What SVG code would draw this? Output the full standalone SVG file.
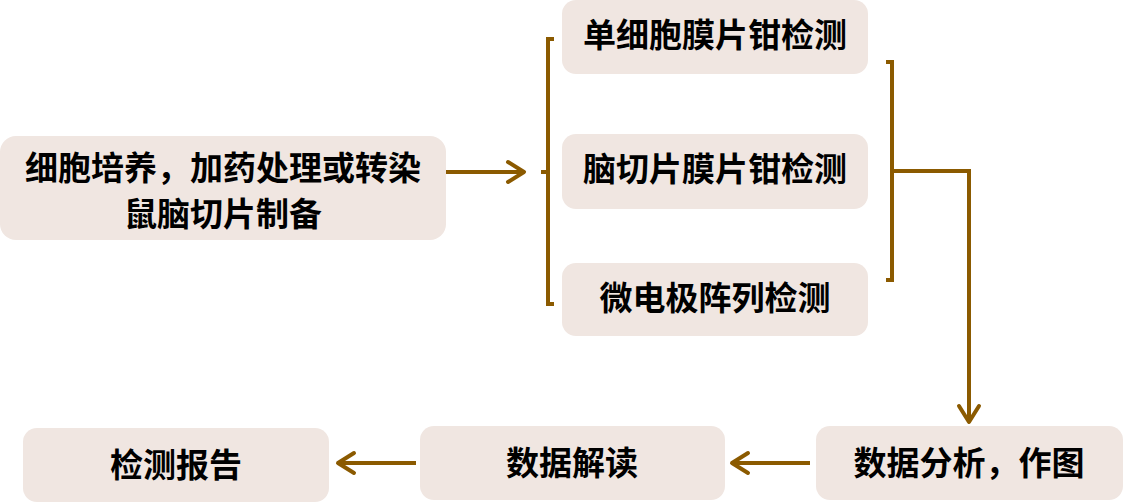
<svg xmlns="http://www.w3.org/2000/svg" width="1123" height="503" viewBox="0 0 1123 503">
<defs>
<style>
.box{fill:#F0E6E1;}
.t{font-family:"Noto Sans CJK SC","Noto Sans",sans-serif;font-weight:bold;font-size:33px;fill:#000;text-anchor:middle;dominant-baseline:central;}
.c{fill:none;stroke:#8B5A00;stroke-width:4;stroke-linecap:butt;stroke-linejoin:miter;}
</style>
<marker id="ah" markerWidth="12" markerHeight="14" refX="10" refY="7" orient="auto" markerUnits="userSpaceOnUse" viewBox="0 0 12 14" overflow="visible">
<path d="M-6,-3 L10,7 L-6,17" fill="none" stroke="#8B5A00" stroke-width="4" stroke-linecap="round" stroke-linejoin="round"/>
</marker>
</defs>
<rect width="1123" height="503" fill="#fff"/>
<g id="n1"><rect class="box" x="0" y="136" width="446" height="104" rx="16"/><text class="t" x="223" y="166"><tspan x="223" y="166">细胞培养，加药处理或转染</tspan><tspan x="223" y="212">鼠脑切片制备</tspan></text></g>
<g id="n2"><rect class="box" x="562" y="0" width="306" height="74" rx="14"/><text class="t" x="715" y="33">单细胞膜片钳检测</text></g>
<g id="n3"><rect class="box" x="562" y="134" width="306" height="75" rx="14"/><text class="t" x="715" y="167">脑切片膜片钳检测</text></g>
<g id="n4"><rect class="box" x="562" y="263" width="306" height="73" rx="14"/><text class="t" x="715" y="296">微电极阵列检测</text></g>
<g id="n5"><rect class="box" x="816" y="426" width="307" height="74" rx="14"/><text class="t" x="969" y="461">数据分析，作图</text></g>
<g id="n6"><rect class="box" x="420" y="426" width="305" height="74" rx="14"/><text class="t" x="572" y="461">数据解读</text></g>
<g id="n7"><rect class="box" x="23" y="428" width="306" height="74" rx="14"/><text class="t" x="176" y="463">检测报告</text></g>
<g id="connectors">
<path class="c" d="M446,172 L524,172" marker-end="url(#ah)"/>
<path class="c" d="M554,39 L548,39 L548,304 L554,304"/>
<path class="c" d="M548,172 L541,172"/>
<path class="c" d="M886,62 L892,62 L892,280 L886,280"/>
<path class="c" d="M892,171 L969,171 L969,422" marker-end="url(#ah)"/>
<path class="c" d="M810,463 L732,463" marker-end="url(#ah)"/>
<path class="c" d="M416,463 L338,463" marker-end="url(#ah)"/>
</g>
</svg>
